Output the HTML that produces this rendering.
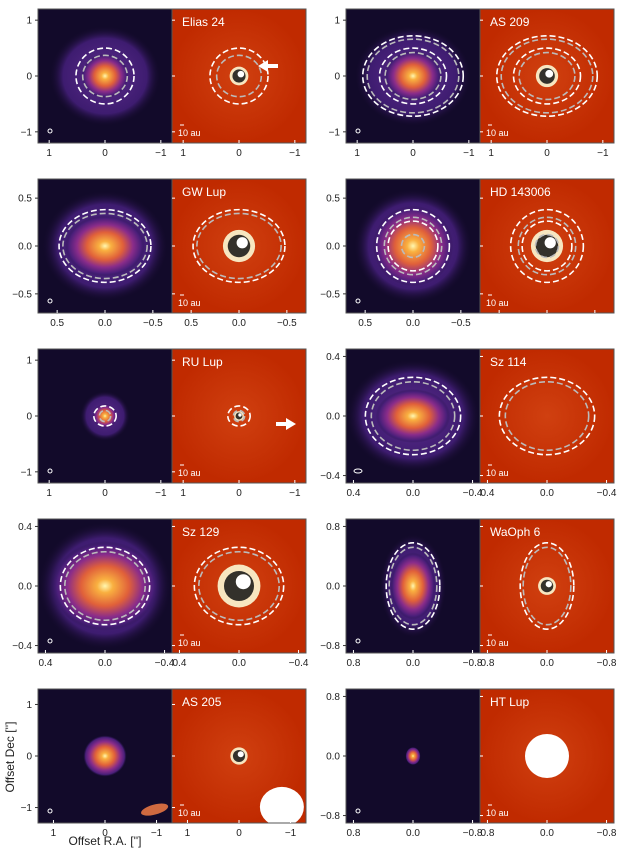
<!DOCTYPE html>
<html><head><meta charset="utf-8">
<style>
html,body{margin:0;padding:0;background:#fff;}
svg{display:block;font-family:"Liberation Sans","DejaVu Sans",sans-serif;}
</style></head>
<body>
<svg id="fig" width="628" height="853" viewBox="0 0 628 853" xmlns="http://www.w3.org/2000/svg">
<defs>
<radialGradient id="diskGrad" cx="50%" cy="50%" r="50%">
<stop offset="0" stop-color="#fff7b0"/>
<stop offset="0.15" stop-color="#f9b040"/>
<stop offset="0.45" stop-color="#e0603a"/>
<stop offset="0.7" stop-color="#8a2c8a"/>
<stop offset="0.9" stop-color="#4a1f7a"/>
<stop offset="1" stop-color="#2a1450" stop-opacity="0"/>
</radialGradient>
<radialGradient id="haloGrad" cx="50%" cy="50%" r="50%">
<stop offset="0" stop-color="#5c2c8c"/>
<stop offset="0.75" stop-color="#3e1c70"/>
<stop offset="1" stop-color="#130a28" stop-opacity="0"/>
</radialGradient>
<radialGradient id="resGrad" cx="50%" cy="50%" r="50%">
<stop offset="0" stop-color="#d04010"/>
<stop offset="1" stop-color="#c02a00"/>
</radialGradient>
</defs>
</svg>
<script>
// panel column lefts and row tops (layout)
var colX=[38,346]; var rowY=[9,179,349,519,689]; var P=134;
// data
var names=["Elias 24","AS 209","GW Lup","HD 143006","RU Lup","Sz 114","Sz 129","WaOph 6","AS 205","HT Lup"];
var lims=[1.2,1.2,0.7,0.7,1.2,0.45,0.45,0.9,1.3,0.9];
var tickVals=[[1,0,-1],[1,0,-1],[0.5,0,-0.5],[0.5,0,-0.5],[1,0,-1],[0.4,0,-0.4],[0.4,0,-0.4],[0.8,0,-0.8],[1,0,-1],[0.8,0,-0.8]];
var tickLabels=[["1","0","\u22121"],["1","0","\u22121"],["0.5","0.0","\u22120.5"],["0.5","0.0","\u22120.5"],["1","0","\u22121"],["0.4","0.0","\u22120.4"],["0.4","0.0","\u22120.4"],["0.8","0.0","\u22120.8"],["1","0","\u22121"],["0.8","0.0","\u22120.8"]];
// disk sizes in arcsec (semi-major, minor) and halo
var diskR=[[0.42,0.4],[0.5,0.45],[0.42,0.32],[0.42,0.42],[0.22,0.22],[0.25,0.18],[0.36,0.3],[0.3,0.45],[0.42,0.4],[0.1,0.12]];
var haloR=[[1.0,0.9],[1.05,0.9],[0.66,0.58],[0.62,0.6],[0.45,0.45],[0.45,0.38],[0.45,0.43],[0.45,0.7],[0,0],[0,0]];
// rings: [a,b,colour(0 white,1 gray)]
var rings=[[[0.52,0.5,0],[0.4,0.37,1]],[[0.9,0.72,0],[0.82,0.66,1],[0.6,0.5,0],[0.5,0.42,1]],[[0.48,0.38,0],[0.44,0.34,1]],[[0.38,0.38,0],[0.3,0.3,1],[0.26,0.26,0],[0.12,0.12,1]],[[0.2,0.18,0],[0.1,0.1,1]],[[0.32,0.26,0],[0.28,0.23,1]],[[0.3,0.26,0],[0.27,0.23,1]],[[0.36,0.58,0],[0.32,0.52,1]],[],[]];
var rowLabels=["Offset Dec ['']","Offset R.A. ['']"];

var svg=document.getElementById('fig');var NS="http://www.w3.org/2000/svg";
function el(t,a,p){var e=document.createElementNS(NS,t);for(var k in a)e.setAttribute(k,a[k]);(p||svg).appendChild(e);return e;}
function txt(s,a,p){var e=el('text',a,p);e.textContent=s;return e;}
for(var i=0;i<names.length;i++){
 var r=Math.floor(i/2),c=i%2;var x0=colX[c],y0=rowY[r];var L=lims[i];
 var sc=P/(2*L);var cx=x0+P/2,cy=y0+P/2;
 var g=el('g',{});
 
 
 var bg=el('rect',{x:x0,y:y0,width:P,height:P,fill:'#120a2a'},g);
 
 if(haloR[i][0]>0)el('ellipse',{cx:cx,cy:cy,rx:haloR[i][0]*sc,ry:haloR[i][1]*sc,fill:'url(#haloGrad)'},g);
 el('ellipse',{cx:cx,cy:cy,rx:diskR[i][0]*sc,ry:diskR[i][1]*sc,fill:'url(#diskGrad)'},g);
 var x1=x0+P;
 var rb=el('rect',{x:x1,y:y0,width:P,height:P,fill:'url(#resGrad)'},g);
 
 var rc=x1+P/2;
 var core=Math.max(diskR[i][0]*0.4,0.08)*sc;
 if(i!==5&&i!==9){
  el('circle',{cx:rc,cy:cy,r:core,fill:'#f7e6c0'},g);
  el('circle',{cx:rc,cy:cy,r:core*0.7,fill:'#111',opacity:0.85},g);
  el('circle',{cx:rc+core*0.2,cy:cy-core*0.2,r:core*0.35,fill:'#fff'},g);
 }
 if(i===8){el('ellipse',{cx:x1+P*0.82,cy:y0+P*0.88,rx:22,ry:20,fill:'#fff'},g);
  el('ellipse',{cx:x0+P*0.87,cy:y0+P*0.9,rx:14,ry:5,fill:'#d06a40',transform:'rotate(-15 '+(x0+P*0.87)+' '+(y0+P*0.9)+')'},g);}
 if(i===9){el('circle',{cx:rc,cy:cy,r:22,fill:'#fff'},g);}
 rings[i].forEach(function(q){[cx,rc].forEach(function(xx){
  el('ellipse',{cx:xx,cy:cy,rx:q[0]*sc,ry:q[1]*sc,fill:'none',stroke:q[2]?'#bbbbbb':'#ffffff','stroke-width':1.6,'stroke-dasharray':'6 3'},g);});});
 el('rect',{x:x0,y:y0,width:2*P,height:P,fill:'none',stroke:'#555','stroke-width':1},g);
 el('line',{x1:x1,y1:y0,x2:x1,y2:y0+P,stroke:'#555','stroke-width':1},g);
 var t=txt(names[i],{x:x1+10,y:y0+17,fill:'#fff','font-size':12},g);
 
 el('line',{x1:x1+8,y1:y0+P-18,x2:x1+12,y2:y0+P-18,stroke:'#fff','stroke-width':1},g);
 txt('10 au',{x:x1+6,y:y0+P-7,fill:'#fff','font-size':9},g);
 el('ellipse',{cx:x0+12,cy:y0+P-12,rx:r==2&&c==1?4:2,ry:2,fill:'none',stroke:'#fff','stroke-width':1},g);
 tickVals[i].forEach(function(v,k){
  var tx=cx-v*sc,ty=cy-v*sc;
  el('line',{x1:tx,y1:y0+P,x2:tx,y2:y0+P-3,stroke:'#fff'},g);
  el('line',{x1:tx+P,y1:y0+P,x2:tx+P,y2:y0+P-3,stroke:'#fff'},g);
  el('line',{x1:x0,y1:ty,x2:x0-3,y2:ty,stroke:'#333'},g);
  el('line',{x1:x1,y1:ty,x2:x1+3,y2:ty,stroke:'#fff'},g);
  txt(tickLabels[i][k],{x:tx,y:y0+P+13,'font-size':10,'text-anchor':'middle',fill:'#222'},g);
  if(i!==3)txt(tickLabels[i][k],{x:tx+P,y:y0+P+13,'font-size':10,'text-anchor':'middle',fill:'#222'},g);
  txt(tickLabels[i][k],{x:x0-6,y:ty+3.5,'font-size':10,'text-anchor':'end',fill:'#222'},g);
 });
}
function arrowL(x,y){var a=el('path',{d:'M'+x+' '+y+' l10 -6 v4 h10 v4 h-10 v4 z',fill:'#fff'});}
function arrowR(x,y){var a=el('path',{d:'M'+x+' '+y+' l-10 -6 v4 h-10 v4 h10 v4 z',fill:'#fff'});}
arrowL(258,66);arrowR(296,424);
var yl=txt(rowLabels[0],{x:14,y:757,'font-size':12,'text-anchor':'middle',fill:'#222',transform:'rotate(-90 14 757)'});

var xl=txt(rowLabels[1],{x:105,y:845,'font-size':12,'text-anchor':'middle',fill:'#222'});

</script>
</body></html>
